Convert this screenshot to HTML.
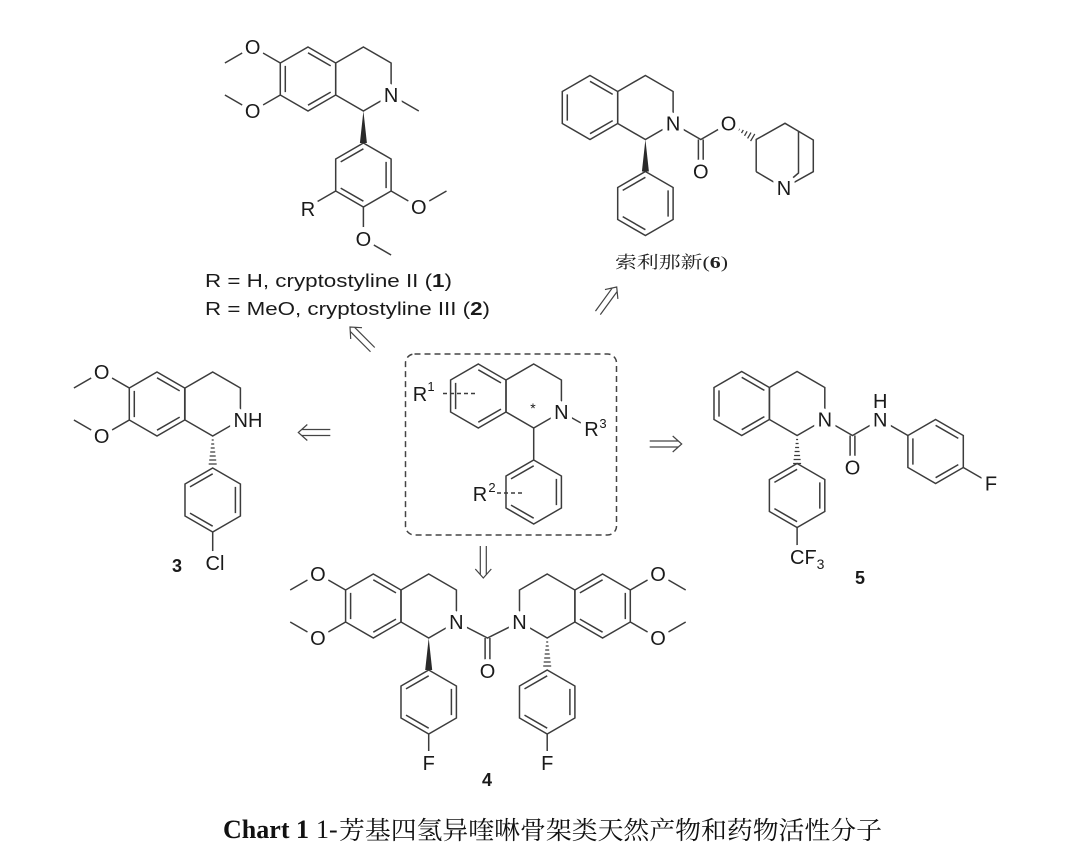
<!DOCTYPE html>
<html><head><meta charset="utf-8"><style>
html,body{margin:0;padding:0;background:#fff;}
svg{display:block}
.t{font-family:"Liberation Sans",Arial,sans-serif;font-size:20px;fill:#1a1a1a;text-anchor:middle;stroke:#fff;stroke-width:10;paint-order:stroke;stroke-linejoin:round}
.s{font-family:"Liberation Sans",Arial,sans-serif;fill:#1a1a1a}
.n{font-family:"Liberation Sans",Arial,sans-serif;font-size:18px;font-weight:bold;fill:#1a1a1a;text-anchor:middle}
</style></head><body>
<svg width="1080" height="850" viewBox="0 0 1080 850" xmlns="http://www.w3.org/2000/svg">
<defs>
<polygon id="hx" points="0,-32 27.71,-16 27.71,16 0,32 -27.71,16 -27.71,-16" stroke="#3c3c3c" stroke-width="1.5" fill="none"/>
<path id="dA" d="M-22.7,-13.1V13.1M0,-26.2L22.7,-13.1M22.7,13.1L0,26.2" stroke="#3c3c3c" stroke-width="1.5" fill="none"/>
<path id="dB" d="M0,-26.2L-22.7,-13.1M22.7,-13.1V13.1M-22.7,13.1L0,26.2" stroke="#3c3c3c" stroke-width="1.5" fill="none"/>
<path id="hs" d="M-1,4H1M-1.5,8H1.5M-2,12H2M-2.5,16H2.5M-3,20H3M-3.5,24H3.5M-4,28H4" stroke="#3c3c3c" stroke-width="1.3" fill="none"/>
<path id="ar" d="M-32,-3H-3.5M-32,3H-3.5M-9,-8L0,0L-9,8" stroke="#444" stroke-width="1.2" fill="none"/>
</defs>

<g stroke="#3c3c3c" stroke-width="1.5" fill="none">
<!-- Structure 1 -->
<use href="#hx" x="308" y="79"/><use href="#dA" x="308" y="79"/>
<use href="#hx" x="363.4" y="79"/>
<use href="#hx" x="363.4" y="175"/><use href="#dB" x="363.4" y="175"/>
<path d="M280.3,63L252.6,47L224.9,63M280.3,95L252.6,111L224.9,95M391.1,95L418.8,111M335.7,191L308,207M391.1,191L418.8,207L446.5,191M363.4,207L363.4,239L391.1,255"/>

<!-- Structure 6 -->
<use href="#hx" x="590" y="107.5"/><use href="#dA" x="590" y="107.5"/>
<use href="#hx" x="645.4" y="107.5"/>
<use href="#hx" x="645.4" y="203.5"/><use href="#dB" x="645.4" y="203.5"/>
<path d="M673.1,123.5L700.8,139.5L728.5,123.5M698.4,139.5V171.5M703.2,139.5V171.5"/>
<path stroke-width="1.3" d="M739.4,128.6L738.4,130.4M743.3,129.9L741.5,133.1M747.1,131.3L744.5,135.8M751,132.6L747.6,138.4M754.8,133.9L750.6,141.1"/>
<path d="M756.2,171.7L756.2,139.5L785,123.3L813.3,140L813.3,171.7L784,188L756.2,171.7M798.5,131.5V173L788,182"/>

<!-- Center box -->
<rect x="405.5" y="354" width="211" height="181" rx="9" stroke="#444" stroke-dasharray="6,4"/>
<use href="#hx" x="478.3" y="396"/><use href="#dA" x="478.3" y="396"/>
<use href="#hx" x="533.7" y="396"/>
<use href="#hx" x="533.7" y="492"/><use href="#dB" x="533.7" y="492"/>
<path d="M533.7,428V460M561.4,412L581,423"/>
<path d="M443,393.5H477M497,493H525" stroke-dasharray="4,3"/>

<!-- Structure 3 -->
<use href="#hx" x="157" y="404"/><use href="#dA" x="157" y="404"/>
<use href="#hx" x="212.7" y="404"/>
<use href="#hx" x="212.7" y="500"/><use href="#dB" x="212.7" y="500"/>
<path d="M129.3,388L101.6,372L73.9,388M129.3,420L101.6,436L73.9,420M212.7,532V554"/>
<use href="#hs" x="212.7" y="436"/>

<!-- Structure 5 -->
<use href="#hx" x="741.7" y="403.5"/><use href="#dA" x="741.7" y="403.5"/>
<use href="#hx" x="797.1" y="403.5"/>
<use href="#hx" x="797.1" y="495.5"/><use href="#dB" x="797.1" y="495.5"/>
<use href="#hx" x="935.6" y="451.5"/><use href="#dA" x="935.6" y="451.5"/>
<path d="M824.8,419.5L852.5,435.5L880.2,419.5L907.9,435.5M963.3,467.5L991,483.5M797.1,527.5V548M850.1,435.5V467.5M854.9,435.5V467.5"/>
<use href="#hs" x="797.1" y="435.5"/>

<!-- Structure 4 -->
<use href="#hx" x="373.3" y="606"/><use href="#dA" x="373.3" y="606"/>
<use href="#hx" x="428.7" y="606"/>
<use href="#hx" x="428.7" y="702"/><use href="#dB" x="428.7" y="702"/>
<use href="#hx" x="547.2" y="606"/>
<use href="#hx" x="547.2" y="702"/><use href="#dB" x="547.2" y="702"/>
<use href="#hx" x="602.6" y="606"/><use href="#dB" x="602.6" y="606"/>
<path d="M345.6,590L317.9,574L290.2,590M345.6,622L317.9,638L290.2,622M456.4,622L487.5,638L519.5,622M485.1,638V670M489.9,638V670M630.3,590L658,574L685.7,590M630.3,622L658,638L685.7,622M428.7,734V755M547.2,734V755"/>
<use href="#hs" x="547.2" y="638"/>
</g>

<!-- solid wedges -->
<g fill="#2a2a2a">
<polygon points="363.4,111 359.9,143 366.9,143"/>
<polygon points="645.4,139.5 641.9,171.5 648.9,171.5"/>
<polygon points="428.7,638 425.2,670 432.2,670"/>
</g>

<!-- arrows -->
<use href="#ar" transform="translate(298.3,432.5) rotate(180)"/>
<use href="#ar" transform="translate(681.7,444)"/>
<use href="#ar" transform="translate(483.3,578) rotate(90)"/>
<use href="#ar" transform="translate(350,327) rotate(-135)"/>
<use href="#ar" transform="translate(616.7,287) rotate(-54)"/>

<!-- atom labels -->
<g class="t">
<!-- 1 -->
<text x="252.6" y="54">O</text>
<text x="252.6" y="118">O</text>
<text x="391.1" y="102">N</text>
<text x="308" y="216">R</text>
<text x="418.8" y="214">O</text>
<text x="363.4" y="246">O</text>
<!-- 6 -->
<text x="673.1" y="130.5">N</text>
<text x="728.5" y="130.5">O</text>
<text x="700.8" y="178.5">O</text>
<text x="784" y="195">N</text>
<!-- center -->
<text x="561.4" y="419">N</text>
<!-- 3 -->
<text x="101.6" y="379">O</text>
<text x="101.6" y="443">O</text>
<text x="233.5" y="427" style="text-anchor:start">NH</text>
<text x="205.5" y="570" style="text-anchor:start">Cl</text>
<!-- 5 -->
<text x="824.8" y="426.5">N</text>
<text x="852.5" y="474.5">O</text>
<text x="880.2" y="426.5">N</text>
<text x="880.2" y="408">H</text>
<text x="991" y="490.5">F</text>
<text x="790" y="564" style="text-anchor:start">CF<tspan font-size="14" dy="5">3</tspan></text>
<!-- 4 -->
<text x="317.9" y="581">O</text>
<text x="317.9" y="645">O</text>
<text x="456.4" y="629">N</text>
<text x="519.5" y="629">N</text>
<text x="487.5" y="678">O</text>
<text x="428.7" y="770">F</text>
<text x="547.2" y="770">F</text>
<text x="658" y="581">O</text>
<text x="658" y="645">O</text>
</g>

<!-- R groups in box -->
<g class="t">
<text x="420" y="401">R</text>
<text x="591.5" y="436">R</text>
<text x="480" y="501">R</text>
</g>
<g class="s" font-size="13" text-anchor="middle">
<text x="431" y="391">1</text>
<text x="603" y="428">3</text>
<text x="492" y="492">2</text>
<text x="533" y="413" font-size="14">*</text>
</g>

<!-- compound numbers -->
<text class="n" x="177" y="572">3</text>
<text class="n" x="860" y="584">5</text>
<text class="n" x="487" y="786">4</text>

<!-- captions -->
<text class="s" x="205" y="287" font-size="18.5" textLength="247" lengthAdjust="spacingAndGlyphs">R = H, cryptostyline II (<tspan font-weight="bold">1</tspan>)</text>
<text class="s" x="205" y="315" font-size="18.5" textLength="285" lengthAdjust="spacingAndGlyphs">R = MeO, cryptostyline III (<tspan font-weight="bold">2</tspan>)</text>

<text x="615" y="268" font-size="17" textLength="113" lengthAdjust="spacingAndGlyphs" fill="#222" style="font-family:'Liberation Serif','Noto Serif CJK SC',serif">索利那新(<tspan font-weight="bold">6</tspan>)</text>

<text x="223" y="838" font-size="26" font-weight="bold" fill="#111" textLength="86" lengthAdjust="spacingAndGlyphs" style="font-family:'Liberation Serif',serif">Chart 1</text>
<text x="316" y="838" font-size="26" fill="#111" style="font-family:'Liberation Serif',serif">1-</text>
<text x="339" y="839" font-size="25" fill="#111" textLength="543" lengthAdjust="spacingAndGlyphs" style="font-family:'Liberation Serif','Noto Serif CJK SC',serif">芳基四氢异喹啉骨架类天然产物和药物活性分子</text>
</svg>
</body></html>
